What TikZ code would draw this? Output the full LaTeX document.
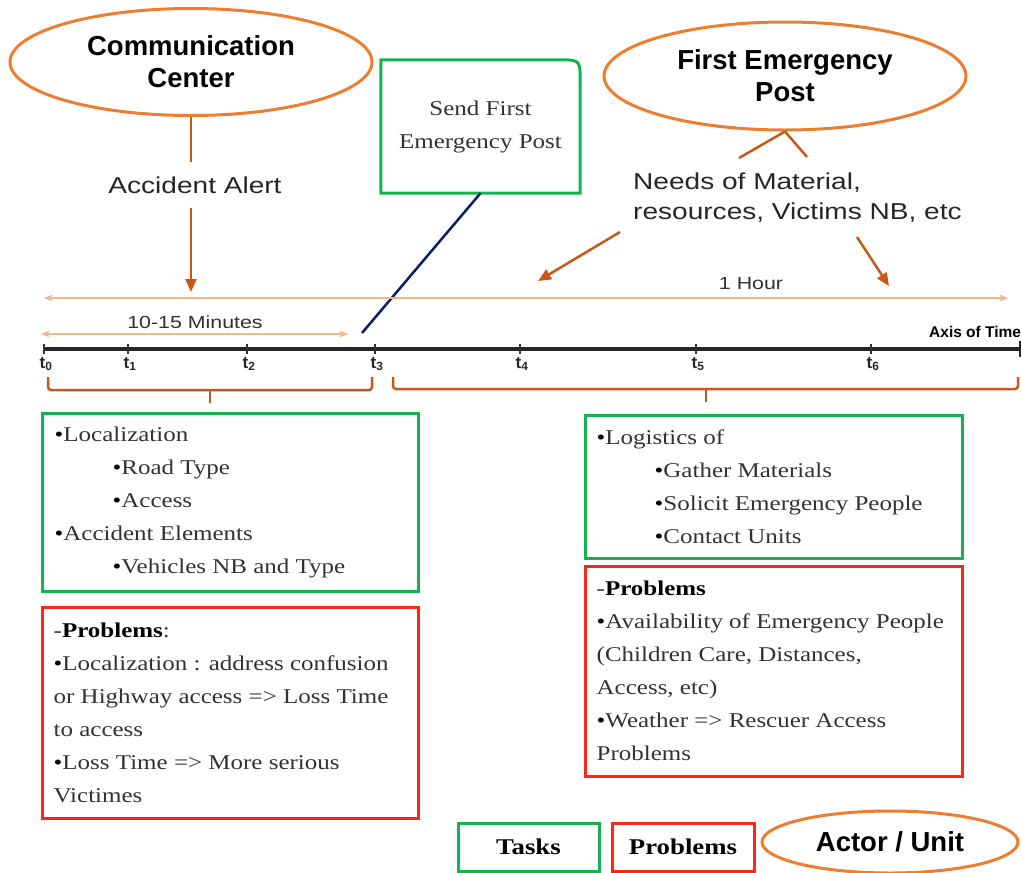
\documentclass[tikz,border=0pt]{standalone}
\usepackage{fontspec}
\setmainfont{Liberation Serif}[FakeStretch=1.19]
\setsansfont{Liberation Sans}
\newfontfamily\widesans{Liberation Sans}[FakeStretch=1.22]
\usetikzlibrary{shapes.geometric,arrows.meta,calc}

\definecolor{actorOrange}{RGB}{237,125,49}
\definecolor{arrowOrange}{RGB}{200,88,25}
\definecolor{spanOrange}{RGB}{244,180,140}
\definecolor{taskGreen}{RGB}{20,178,80}
\definecolor{probRed}{RGB}{250,40,25}
\definecolor{linkNavy}{RGB}{10,30,100}
\definecolor{bodyGray}{RGB}{50,50,50}

\newcommand\bul{\textcolor{black}{\textbullet}}
\newcommand\ind{\hspace*{58pt}}

\tikzset{
  actor/.style={ellipse, draw=actorOrange, line width=3, inner sep=0, align=center,
    font=\sffamily\bfseries\fontsize{27.5}{32}\selectfont},
  taskbox/.style={draw=taskGreen, line width=3, inner sep=0},
  probbox/.style={draw=probRed, line width=3, inner sep=0},
  bodytext/.style={inner sep=0, align=left, anchor=west, text=bodyGray,
    font=\fontsize{21}{33}\selectfont},
  flowline/.style={draw=arrowOrange, line width=2.5},
  flow/.style={flowline, -{Triangle[length=13pt,width=11pt]}},
  span/.style={draw=spanOrange, line width=1.6,
    {Stealth[length=9pt,width=7pt]}-{Stealth[length=9pt,width=7pt]}},
  brace/.style={draw=arrowOrange, line width=2.5, rounded corners=3},
  spanlabel/.style={inner sep=0, text=bodyGray, font=\widesans\fontsize{17.5}{20}\selectfont},
  wide/.style={inner sep=0, align=left, text=black!85, font=\widesans\fontsize{23}{30}\selectfont},
  tlab/.style={inner sep=0, text=black!85, font=\sffamily\bfseries\fontsize{17}{18}\selectfont},
  legend/.style={inner sep=0, font=\bfseries\fontsize{22.5}{24}\selectfont},
}

\begin{document}
\begin{tikzpicture}[x=1pt,y=-1pt]
\useasboundingbox (0,0) rectangle (1021,873);

% actors
\node[actor, minimum width=362, minimum height=107] (cc) at (191,62) {Communication\\Center};
\node[actor, minimum width=362, minimum height=108] (fep) at (785,76) {First Emergency\\Post};

% accident alert from the communication center
\node[wide, minimum height=45] (alert) at (195,185) {Accident Alert};
\coordinate (alertTip) at (191,292);
\draw[flowline] (cc.south) -- (cc.south |- alert.north);
\draw[flow] (alert.south -| cc.south) -- (alertTip);

% send first emergency post task
\node[minimum width=199, minimum height=133, inner sep=0, align=center, text=bodyGray,
      font=\fontsize{21}{33}\selectfont] (send) at (480.5,126.5) {Send First\\Emergency Post};
\draw[taskGreen, line width=3] (send.south west) -- (send.north west)
  -- ($(send.north east)+(-22,0)$) .. controls (send.north east) .. ($(send.north east)+(0,22)$)
  -- (send.south east) -- cycle;
\coordinate (sendHit) at (362,333);
\draw[linkNavy, line width=2.5] (send.south) -- (sendHit);

% needs of the first emergency post
\node[wide, anchor=west] (needs) at (633,198) {Needs of Material,\\resources, Victims NB, etc};
\coordinate (needsL) at (739,158);
\coordinate (needsR) at (807,157);
\draw[flowline] (fep.south) -- (needsL);
\draw[flowline] (fep.south) -- (needsR);
\coordinate (needsA) at (620,232);
\coordinate (needsAtip) at (538,281);
\coordinate (needsB) at (857,237);
\coordinate (needsBtip) at (889,286);
\draw[flow] (needsA) -- (needsAtip);
\draw[flow] (needsB) -- (needsBtip);

% durations
\coordinate (hourL) at (44,298);
\coordinate (hourR) at (1008,298);
\draw[span] (hourL) -- (hourR);
\node[spanlabel] (hour) at (751,284) {1 Hour};
\coordinate (minL) at (41,334);
\coordinate (minR) at (348,334);
\draw[span] (minL) -- (minR);
\node[spanlabel] (mins) at (195,322) {10-15 Minutes};

% axis of time
\coordinate (t0) at (44,349);
\coordinate (tEnd) at (1020,349);
\draw[black!85, line width=3.5] (t0) -- (tEnd);
\draw[black!85, line width=2] (1020,341) -- (1020,357);
\foreach \x/\i in {44/0,128/1,247/2,375/3,520/4,696/5,871/6}{
  \draw[black!80, line width=1.4] (\x,344) -- (\x,354);
  \node[tlab] (tl\i) at (\x+2,364) {t\textsubscript{\i}};
}
\node[inner sep=0, anchor=west, font=\sffamily\bfseries\fontsize{15.5}{17}\selectfont] (axis) at (929,332) {Axis of Time};

% phase braces
\draw[brace] (48,377) -- (48,390) -- (372,390) -- (372,377);
\draw[brace] (210,390) -- (210,403);
\draw[brace] (393,377) -- (393,389) -- (1018,389) -- (1018,377);
\draw[brace] (706,389) -- (706,402);

% first phase: tasks and problems
\node[taskbox, minimum width=376, minimum height=178] (lt) at (230,502) {};
\node[bodytext] (ltx) at ($(lt.west)+(14,0)$) {%
\bul Localization\\
\ind\bul Road Type\\
\ind\bul Access\\
\bul Accident Elements\\
\ind\bul Vehicles NB and Type};

\node[probbox, minimum width=376, minimum height=211] (lp) at (230,712.5) {};
\node[bodytext] (lpx) at ($(lp.west)+(13,0)$) {%
-\textbf{\textcolor{black}{Problems}}:\\
\bul Localization : address confusion\\
or Highway access => Loss Time\\
to access\\
\bul Loss Time => More serious\\
Victimes};

% second phase: tasks and problems
\node[taskbox, minimum width=377, minimum height=143] (rt) at (773.5,486.5) {};
\node[bodytext] (rtx) at ($(rt.west)+(13,0)$) {%
\bul Logistics of\\
\ind\bul Gather Materials\\
\ind\bul Solicit Emergency People\\
\ind\bul Contact Units};

\node[probbox, minimum width=377, minimum height=210] (rp) at (773.5,671) {};
\node[bodytext] (rpx) at ($(rp.west)+(13,0)$) {%
-\textbf{\textcolor{black}{Problems}}\\
\bul Availability of Emergency People\\
(Children Care, Distances,\\
Access, etc)\\
\bul Weather => Rescuer Access\\
Problems};

% legend
\node[taskbox, legend, minimum width=141, minimum height=48] (legTask) at (528.5,847) {Tasks};
\node[probbox, legend, minimum width=142, minimum height=48] (legProb) at (683,847) {Problems};
\node[actor, minimum width=256, minimum height=62] (legActor) at (890,842) {Actor / Unit};
\end{tikzpicture}
\end{document}
